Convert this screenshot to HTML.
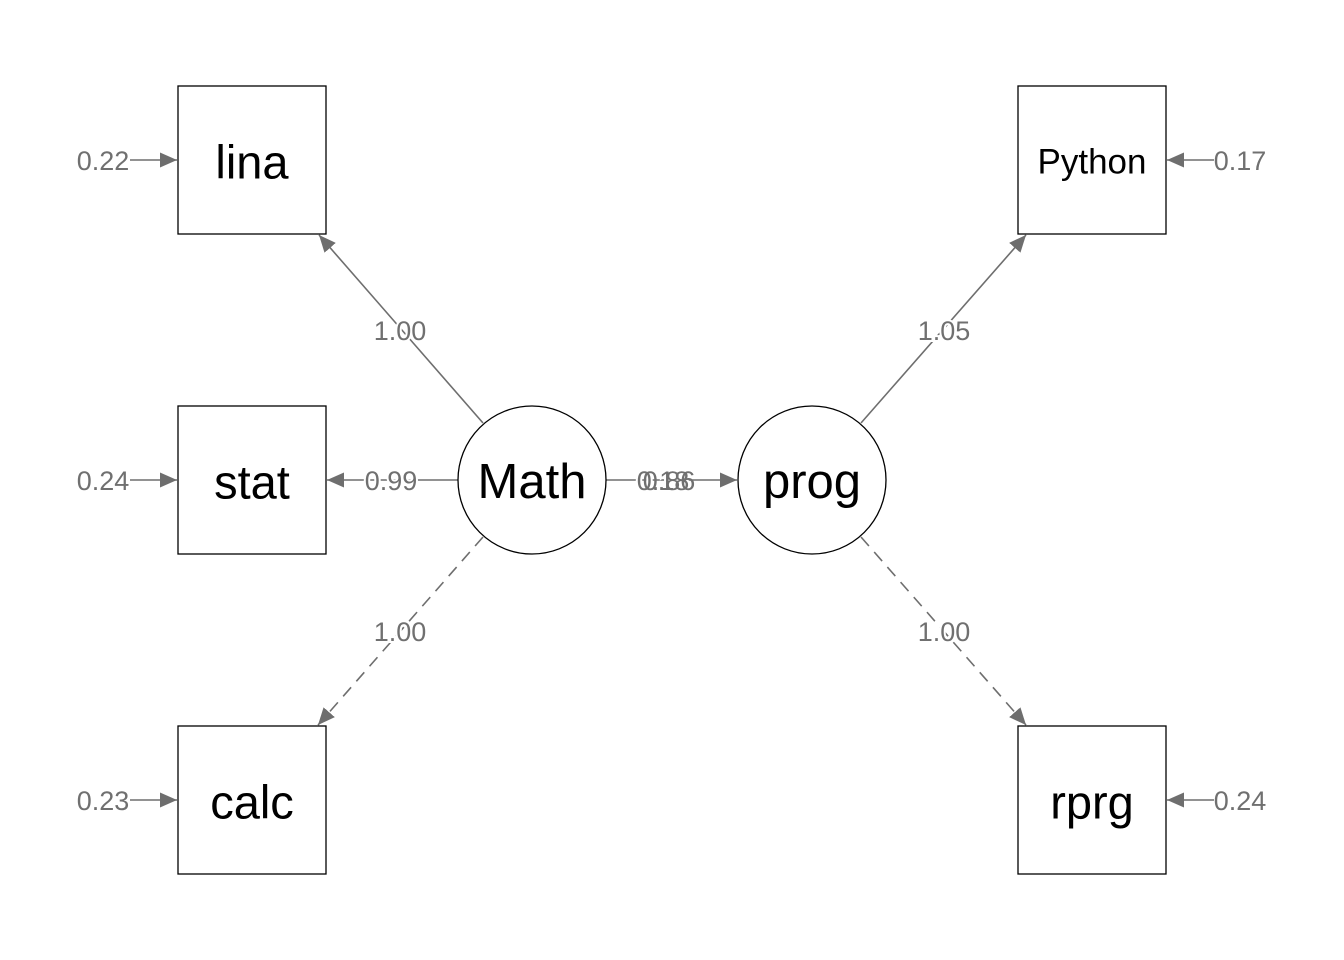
<!DOCTYPE html>
<html><head><meta charset="utf-8"><style>
html,body{margin:0;padding:0;background:#fff;}
svg{display:block;}
text{font-family:"Liberation Sans",Arial,sans-serif;}
.lab{fill:#707070;font-size:27px;text-anchor:middle;dominant-baseline:central;}
.node{fill:#000;text-anchor:middle;dominant-baseline:central;}
</style></head><body>
<svg width="1344" height="960" viewBox="0 0 1344 960" xmlns="http://www.w3.org/2000/svg">
<defs>
<marker id="a" markerWidth="17" markerHeight="15" refX="17" refY="7.5" orient="auto" markerUnits="userSpaceOnUse">
<path d="M0,0 L17,7.5 L0,15 Z" fill="#6e6e6e"/>
</marker>
</defs>
<g stroke="#6e6e6e" stroke-width="1.6" fill="none">
<line x1="130" y1="160" x2="177" y2="160" marker-end="url(#a)"/>
<line x1="130" y1="480" x2="177" y2="480" marker-end="url(#a)"/>
<line x1="130" y1="800" x2="177" y2="800" marker-end="url(#a)"/>
<line x1="1214" y1="160" x2="1167" y2="160" marker-end="url(#a)"/>
<line x1="1214" y1="800" x2="1167" y2="800" marker-end="url(#a)"/>
<line x1="483" y1="423" x2="319" y2="235" marker-end="url(#a)"/>
<line x1="458" y1="480" x2="327" y2="480" marker-end="url(#a)"/>
<line x1="483" y1="537" x2="318" y2="725" stroke-dasharray="12,8" marker-end="url(#a)"/>
<line x1="606" y1="480" x2="737" y2="480" marker-end="url(#a)"/>
<line x1="861" y1="423" x2="1026" y2="235" marker-end="url(#a)"/>
<line x1="861" y1="537" x2="1026" y2="725" stroke-dasharray="12,8" marker-end="url(#a)"/>
</g>
<g stroke="#000" stroke-width="1.3" fill="#fff">
<rect x="178" y="86" width="148" height="148"/>
<rect x="178" y="406" width="148" height="148"/>
<rect x="178" y="726" width="148" height="148"/>
<rect x="1018" y="86" width="148" height="148"/>
<rect x="1018" y="726" width="148" height="148"/>
<circle cx="532" cy="480" r="74"/>
<circle cx="812" cy="480" r="74"/>
</g>
<text class="node" x="252" y="162" font-size="47">lina</text>
<text class="node" x="252" y="482" font-size="47">stat</text>
<text class="node" x="252" y="802" font-size="47">calc</text>
<text class="node" x="1092" y="162" font-size="35">Python</text>
<text class="node" x="1092" y="802" font-size="47">rprg</text>
<text class="node" x="532" y="482" font-size="49">Math</text>
<text class="node" x="812" y="482" font-size="49">prog</text>
<g class="lab">
<text x="103" y="161">0.22</text>
<text x="103" y="481">0.24</text>
<text x="103" y="801">0.23</text>
<text x="1240" y="161">0.17</text>
<text x="1240" y="801">0.24</text>
<text x="400" y="331" style="paint-order:stroke" stroke="#fff" stroke-width="4">1.00</text>
<text x="391" y="481" style="paint-order:stroke" stroke="#fff" stroke-width="4">0.99</text>
<text x="400" y="632" style="paint-order:stroke" stroke="#fff" stroke-width="4">1.00</text>
<text x="944" y="331" style="paint-order:stroke" stroke="#fff" stroke-width="4">1.05</text>
<text x="944" y="632" style="paint-order:stroke" stroke="#fff" stroke-width="4">1.00</text>
<text x="663" y="481" style="paint-order:stroke" stroke="#fff" stroke-width="4">0.18</text>
<text x="669" y="481">0.86</text>
</g>
</svg>
</body></html>
